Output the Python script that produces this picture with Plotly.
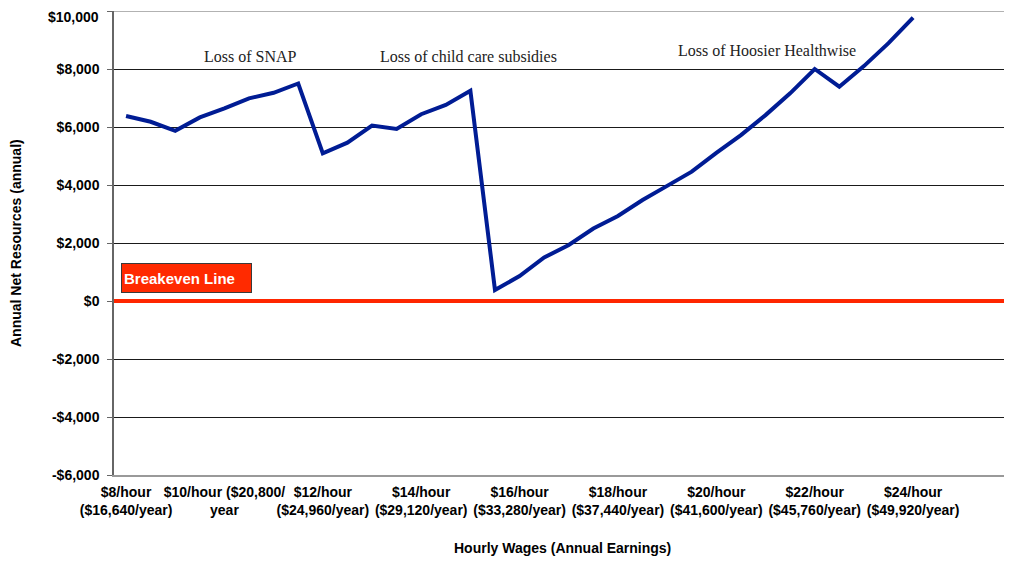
import plotly.graph_objects as go

# hourly wage steps and annual net resources
wages = [8, 8.5, 9, 9.5, 10, 10.5, 11, 11.5,
         12, 12.5, 13, 13.5, 14, 14.5, 15,
         15.5, 16, 16.5, 17, 17.5, 18, 18.5, 19, 19.5,
         20, 20.5, 21, 21.5, 22, 22.5, 23, 23.5, 24]
net_resources = [6380, 6180, 5870, 6330, 6640, 6990, 7180, 7500,
                 5090, 5460, 6050, 5930, 6440, 6760, 7250,
                 380, 860, 1500, 1930, 2500, 2930, 3480, 3970, 4460,
                 5110, 5720, 6410, 7160, 8000, 7390, 8100, 8890, 9770]

tick_wages = [8, 10, 12, 14, 16, 18, 20, 22, 24]
tick_labels = [
    "$8/hour<br>($16,640/year)",
    "$10/hour ($20,800/<br>year",
    "$12/hour<br>($24,960/year)",
    "$14/hour<br>($29,120/year)",
    "$16/hour<br>($33,280/year)",
    "$18/hour<br>($37,440/year)",
    "$20/hour<br>($41,600/year)",
    "$22/hour<br>($45,760/year)",
    "$24/hour<br>($49,920/year)",
]
y_ticks = [-6000, -4000, -2000, 0, 2000, 4000, 6000, 8000, 10000]
y_labels = ["-$6,000", "-$4,000", "-$2,000", "$0", "$2,000",
            "$4,000", "$6,000", "$8,000", "$10,000"]

breakeven = 0
events = ["Loss of SNAP", "Loss of child care subsidies", "Loss of Hoosier Healthwise"]
event_x = [10.52, 14.97, 21.03]
event_y = [8414, 8414, 8655]

SANS = "Liberation Sans"

fig = go.Figure()
fig.add_hline(y=breakeven, line=dict(color="#ff2600", width=4), layer="above")
fig.add_trace(go.Scatter(
    x=wages, y=net_resources, mode="lines",
    line=dict(color="#001c94", width=4), hoverinfo="skip", showlegend=False,
))
# grey top border at the $10,000 line
fig.add_hline(y=y_ticks[-1], line=dict(color="#999999", width=1.5), layer="above")

for txt, ex, ey in zip(events, event_x, event_y):
    fig.add_annotation(x=ex, y=ey, text=txt, showarrow=False,
                       font=dict(family="Liberation Serif", size=16, color="#222222"))

fig.add_annotation(
    x=7.9, y=280, xanchor="left", yanchor="bottom", text="<b>Breakeven Line</b>",
    showarrow=False, align="left", width=125, height=24, borderpad=2,
    bgcolor="#ff2a00", bordercolor="#3a3a3a", borderwidth=1,
    font=dict(family=SANS, size=15, color="white"),
)

# top tick label drawn as an annotation, nudged down so it is not clipped
fig.add_annotation(xref="paper", yref="y", x=0, y=y_ticks[-1], xshift=-14, yshift=-6,
                   xanchor="right", yanchor="middle", text=f"<b>{y_labels[-1]}</b>",
                   showarrow=False, borderpad=0,
                   font=dict(family=SANS, size=14, color="black"))

# axis titles
fig.add_annotation(xref="paper", yref="paper", x=0.5, y=0, yshift=-73,
                   xanchor="center", yanchor="middle",
                   text="<b>Hourly Wages (Annual Earnings)</b>", showarrow=False,
                   font=dict(family=SANS, size=14, color="black"))
fig.add_annotation(xref="paper", yref="paper", x=0, y=0.5, xshift=-98,
                   xanchor="center", yanchor="middle",
                   text="<b>Annual Net Resources (annual)</b>", showarrow=False,
                   textangle=-90, font=dict(family=SANS, size=14, color="black"))

fig.update_xaxes(
    range=[7.755, 25.97], tickvals=tick_wages,
    ticktext=["<b>" + t.replace("<br>", "</b><br><b>") + "</b>" for t in tick_labels],
    tickangle=0, automargin=False, ticklabelstandoff=3,
    showgrid=False, zeroline=False, showline=True, linecolor="#999999", linewidth=2,
    ticks="", tickfont=dict(family=SANS, size=14, color="black"),
)
fig.update_yaxes(
    range=[-6000, 10000], tickvals=y_ticks,
    ticktext=[f"<b>{t}</b>" for t in y_labels[:-1]] + [""],
    automargin=False,
    showgrid=True, gridcolor="#1a1a1a", gridwidth=1, zeroline=False,
    showline=True, linecolor="#666666", linewidth=1.5,
    ticks="outside", ticklen=5, tickcolor="#666666", ticklabelstandoff=5,
    tickfont=dict(family=SANS, size=14, color="black"),
)

# page body adds an 8px margin, so size/margins are trimmed to land the plot area in place
fig.update_layout(
    width=1004, height=553,
    margin=dict(l=106, r=2, t=3, b=86),
    plot_bgcolor="white", paper_bgcolor="white",
    showlegend=False,
)
fig.write_html("out.html")
